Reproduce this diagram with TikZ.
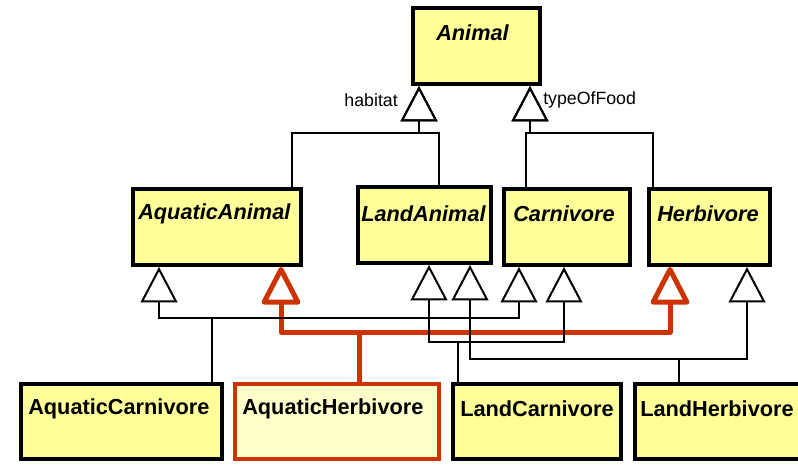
\documentclass[tikz,border=0pt]{standalone}
\usepackage{fontspec}
\setmainfont{Liberation Sans}
\usetikzlibrary{arrows.meta}
\definecolor{boxyellow}{RGB}{255,255,153}
\definecolor{paleyellow}{RGB}{255,255,204}
\definecolor{hlred}{RGB}{204,51,0}
\begin{document}
\begin{tikzpicture}[x=0.75pt,y=-0.75pt,
  box/.style={draw, line width=3pt, fill=boxyellow, inner sep=0pt, minimum height=57pt},
  hbox/.style={box, draw=hlred, fill=paleyellow},
  cname/.style={font=\fontsize{16.3}{19}\selectfont\bfseries, inner sep=0pt, anchor=west},
  lab/.style={font=\fontsize{13.3}{16}\selectfont, inner sep=0pt},
  gen/.style={line width=1.5pt, -{Triangle[open, length=26.5pt, width=27.5pt]}},
  hgen/.style={draw=hlred, line width=3.75pt, line join=round, -{Triangle[open, round, length=30.5pt, width=30.5pt]}}]
\useasboundingbox (0,0) rectangle (798,464);

% boxes
\node[box, minimum width=95.25pt] (An) at (476.5,46) {};
\node[box, minimum width=126pt] (AA) at (217,227) {};
\node[box, minimum width=99.75pt] (LA) at (424.5,225) {};
\node[box, minimum width=94.5pt] (Ca) at (567,227) {};
\node[box, minimum width=90.75pt] (He) at (709.5,227) {};
\node[box, minimum width=150.75pt, minimum height=56.25pt] (AC) at (121.5,421.5) {};
\node[hbox, minimum width=153pt, minimum height=56.25pt] (AH) at (337,421.5) {};
\node[box, minimum width=126pt, minimum height=56.25pt] (LC) at (537,421.5) {};
\node[box, minimum width=124.5pt, minimum height=56.25pt] (LH) at (718,421.5) {};

% names
\node[cname] (tAn) at (436,33) {\textit{Animal}};
\node[cname] (tAA) at (138,214) {\textit{AquaticAnimal}};
\node[cname] (tLA) at (361,214) {\textit{LandAnimal}};
\node[cname] (tCa) at (513,214) {\textit{Carnivore}};
\node[cname] (tHe) at (657,214) {\textit{Herbivore}};
\node[cname] (tAC) at (28,409) {AquaticCarnivore};
\node[cname] (tAH) at (242,409) {AquaticHerbivore};
\node[cname] (tLC) at (460,409) {LandCarnivore};
\node[cname] (tLH) at (640,409) {LandHerbivore};

% labels
\node[lab, anchor=east] (habitat) at (398,100) {habitat};
\node[lab, anchor=west] (food) at (543,100) {typeOfFood};

% junction coordinates
\coordinate (jH) at (419,133);
\coordinate (jF) at (530,133);
\coordinate (jAC) at (212,318);
\coordinate (jAH) at (359,332);
\coordinate (jLC) at (458,342);
\coordinate (jLH) at (679,359);

% top generalisations
\draw[gen] (AA.north -| 292,0) |- (jH) -- (An.south -| jH);
\draw[gen] (LA.north -| 439,0) |- (jH) -- (An.south -| jH);
\draw[gen] (Ca.north -| 526,0) |- (jF) -- (An.south -| jF);
\draw[gen] (He.north -| 653,0) |- (jF) -- (An.south -| jF);

% highlighted AquaticHerbivore
\draw[hgen] (AH.north -| jAH) -- (jAH) -| (AA.south -| 281,0);
\draw[hgen] (AH.north -| jAH) -- (jAH) -| (He.south -| 670,0);

% other generalisations
\draw[gen] (AC.north -| jAC) -- (jAC) -| (AA.south -| 159,0);
\draw[gen] (AC.north -| jAC) -- (jAC) -| (Ca.south -| 519,0);
\draw[gen] (LC.north -| jLC) -- (jLC) -| (LA.south -| 429,0);
\draw[gen] (LC.north -| jLC) -- (jLC) -| (Ca.south -| 564,0);
\draw[gen] (LH.north -| jLH) -- (jLH) -| (LA.south -| 470,0);
\draw[gen] (LH.north -| jLH) -- (jLH) -| (He.south -| 747,0);
\end{tikzpicture}
\end{document}
